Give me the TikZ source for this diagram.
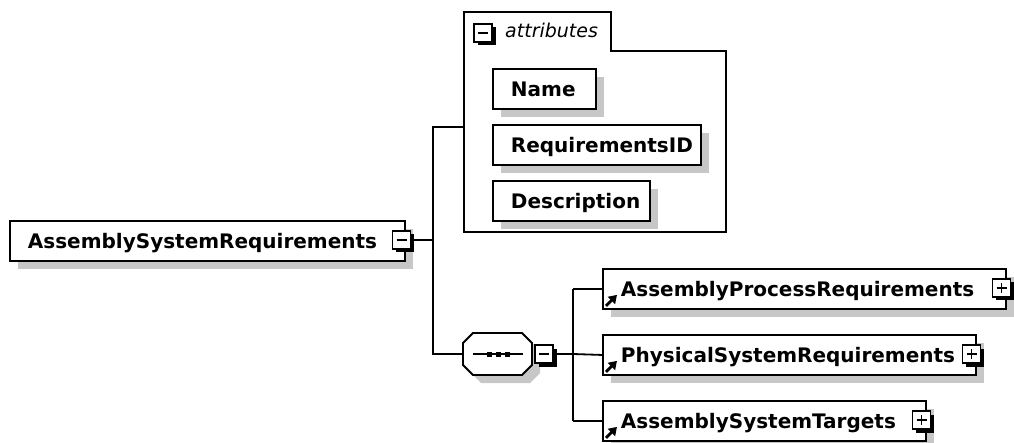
\documentclass[tikz,border=0pt]{standalone}
\usepackage{fontspec}
\setmainfont{DejaVu Sans}
\usetikzlibrary{shadows,calc,arrows.meta}
\begin{document}
\begin{tikzpicture}[x=1pt,y=-1pt,line join=miter,
  sh/.style={drop shadow={shadow xshift=8pt,shadow yshift=-8pt,fill=black!22,opacity=1,draw=none}},
  elbox/.style={draw,line width=1.9pt,fill=white,rectangle,anchor=north west,inner xsep=18pt,inner ysep=0pt,
    minimum height=40pt,text height=14.6pt,text depth=0pt,font=\bfseries\fontsize{20}{24}\selectfont,sh,
    execute at begin node={\hbox to #1\bgroup},execute at end node={\hfil\egroup}},
  tog/.style={draw,line width=1.8pt,fill=white,rectangle,minimum size=18pt,inner sep=0pt,
    drop shadow={shadow xshift=3.5pt,shadow yshift=-3.5pt,fill=black,opacity=1,draw=none}},
  minusi/.style={tog,path picture={\draw[line width=1.7pt] ([xshift=4pt]path picture bounding box.west)--([xshift=-4pt]path picture bounding box.east);}},
  plusi/.style={tog,path picture={\draw[line width=1.7pt] ([xshift=4pt]path picture bounding box.west)--([xshift=-4pt]path picture bounding box.east) ([yshift=-4pt]path picture bounding box.north)--([yshift=4pt]path picture bounding box.south);}},
  conn/.style={line width=1.8pt},
  refarrow/.style={line width=2.8pt,-{Triangle[length=8pt,width=10pt]}}]
\useasboundingbox (0,0) rectangle (1014,443);

% root element
\node[elbox=359pt] (asr) at (9,220) {AssemblySystemRequirements};
\node[minusi] (asrt) at (401.5,240) {};
\coordinate (tk) at (433,240);

% attributes group
\node[draw=none,minimum width=262pt,minimum height=220pt,inner sep=0pt,anchor=north west] (attrs) at (464,12) {};
\draw[line width=1.9pt] (attrs.north west) -- ++(147,0) -- ++(0,39) -| (attrs.south east) -- (attrs.south west) -- cycle;
\node[minusi] (attrt) at (483,33) {};
\node[font=\itshape\fontsize{19}{23}\selectfont,anchor=base west,inner sep=0pt] (attrl) at (505,38) {attributes};
\node[elbox=67pt] (nm) at (492,68) {Name};
\node[elbox=172pt] (rid) at (492,124) {RequirementsID};
\node[elbox=121pt] (desc) at (492,180) {Description};

% sequence compositor
\node[draw=none,minimum width=69pt,minimum height=42pt,inner sep=0pt] (seq) at (497.5,354) {};
\fill[black!22,shift={(8,8)}] (473,333) -- (522,333) -- (532,343) -- (532,365) -- (522,375) -- (473,375) -- (463,365) -- (463,343) -- cycle;
\draw[line width=1.9pt,fill=white] (473,333) -- (522,333) -- (532,343) -- (532,365) -- (522,375) -- (473,375) -- (463,365) -- (463,343) -- cycle;
\draw[line width=1.6pt] (473,354) -- (523,354);
\foreach \dx in {489.5,498.5,507.5} \fill (\dx-2.5,351.5) rectangle ++(5,5);
\node[minusi] (seqt) at (544,354) {};
\coordinate (b2) at (573,354);

% children
\node[elbox=367pt] (c1) at (602,268) {AssemblyProcessRequirements};
\node[plusi] (c1t) at (1001.5,288) {};
\node[elbox=337pt] (c2) at (602,334) {PhysicalSystemRequirements};
\node[plusi] (c2t) at (971.5,354) {};
\node[elbox=287pt] (c3) at (602,400) {AssemblySystemTargets};
\node[plusi] (c3t) at (921.5,420) {};
\foreach \k in {c1,c2,c3} \draw[refarrow] ($(\k.south west)+(4,-4)$) -- ++(11,-11);

% connectors
\draw[conn] (asrt.east) -- (tk);
\draw[conn] ([yshift=-5pt]attrs.west) -| (tk) |- (seq.west);
\draw[conn] (seqt.east) -- (b2);
\draw[conn] (b2 |- c1.west) -- (b2 |- c3.west);
\draw[conn] (b2 |- c1.west) -- (c1.west);
\draw[conn] (b2) -- (c2.west);
\draw[conn] (b2 |- c3.west) -- (c3.west);
\end{tikzpicture}
\end{document}
